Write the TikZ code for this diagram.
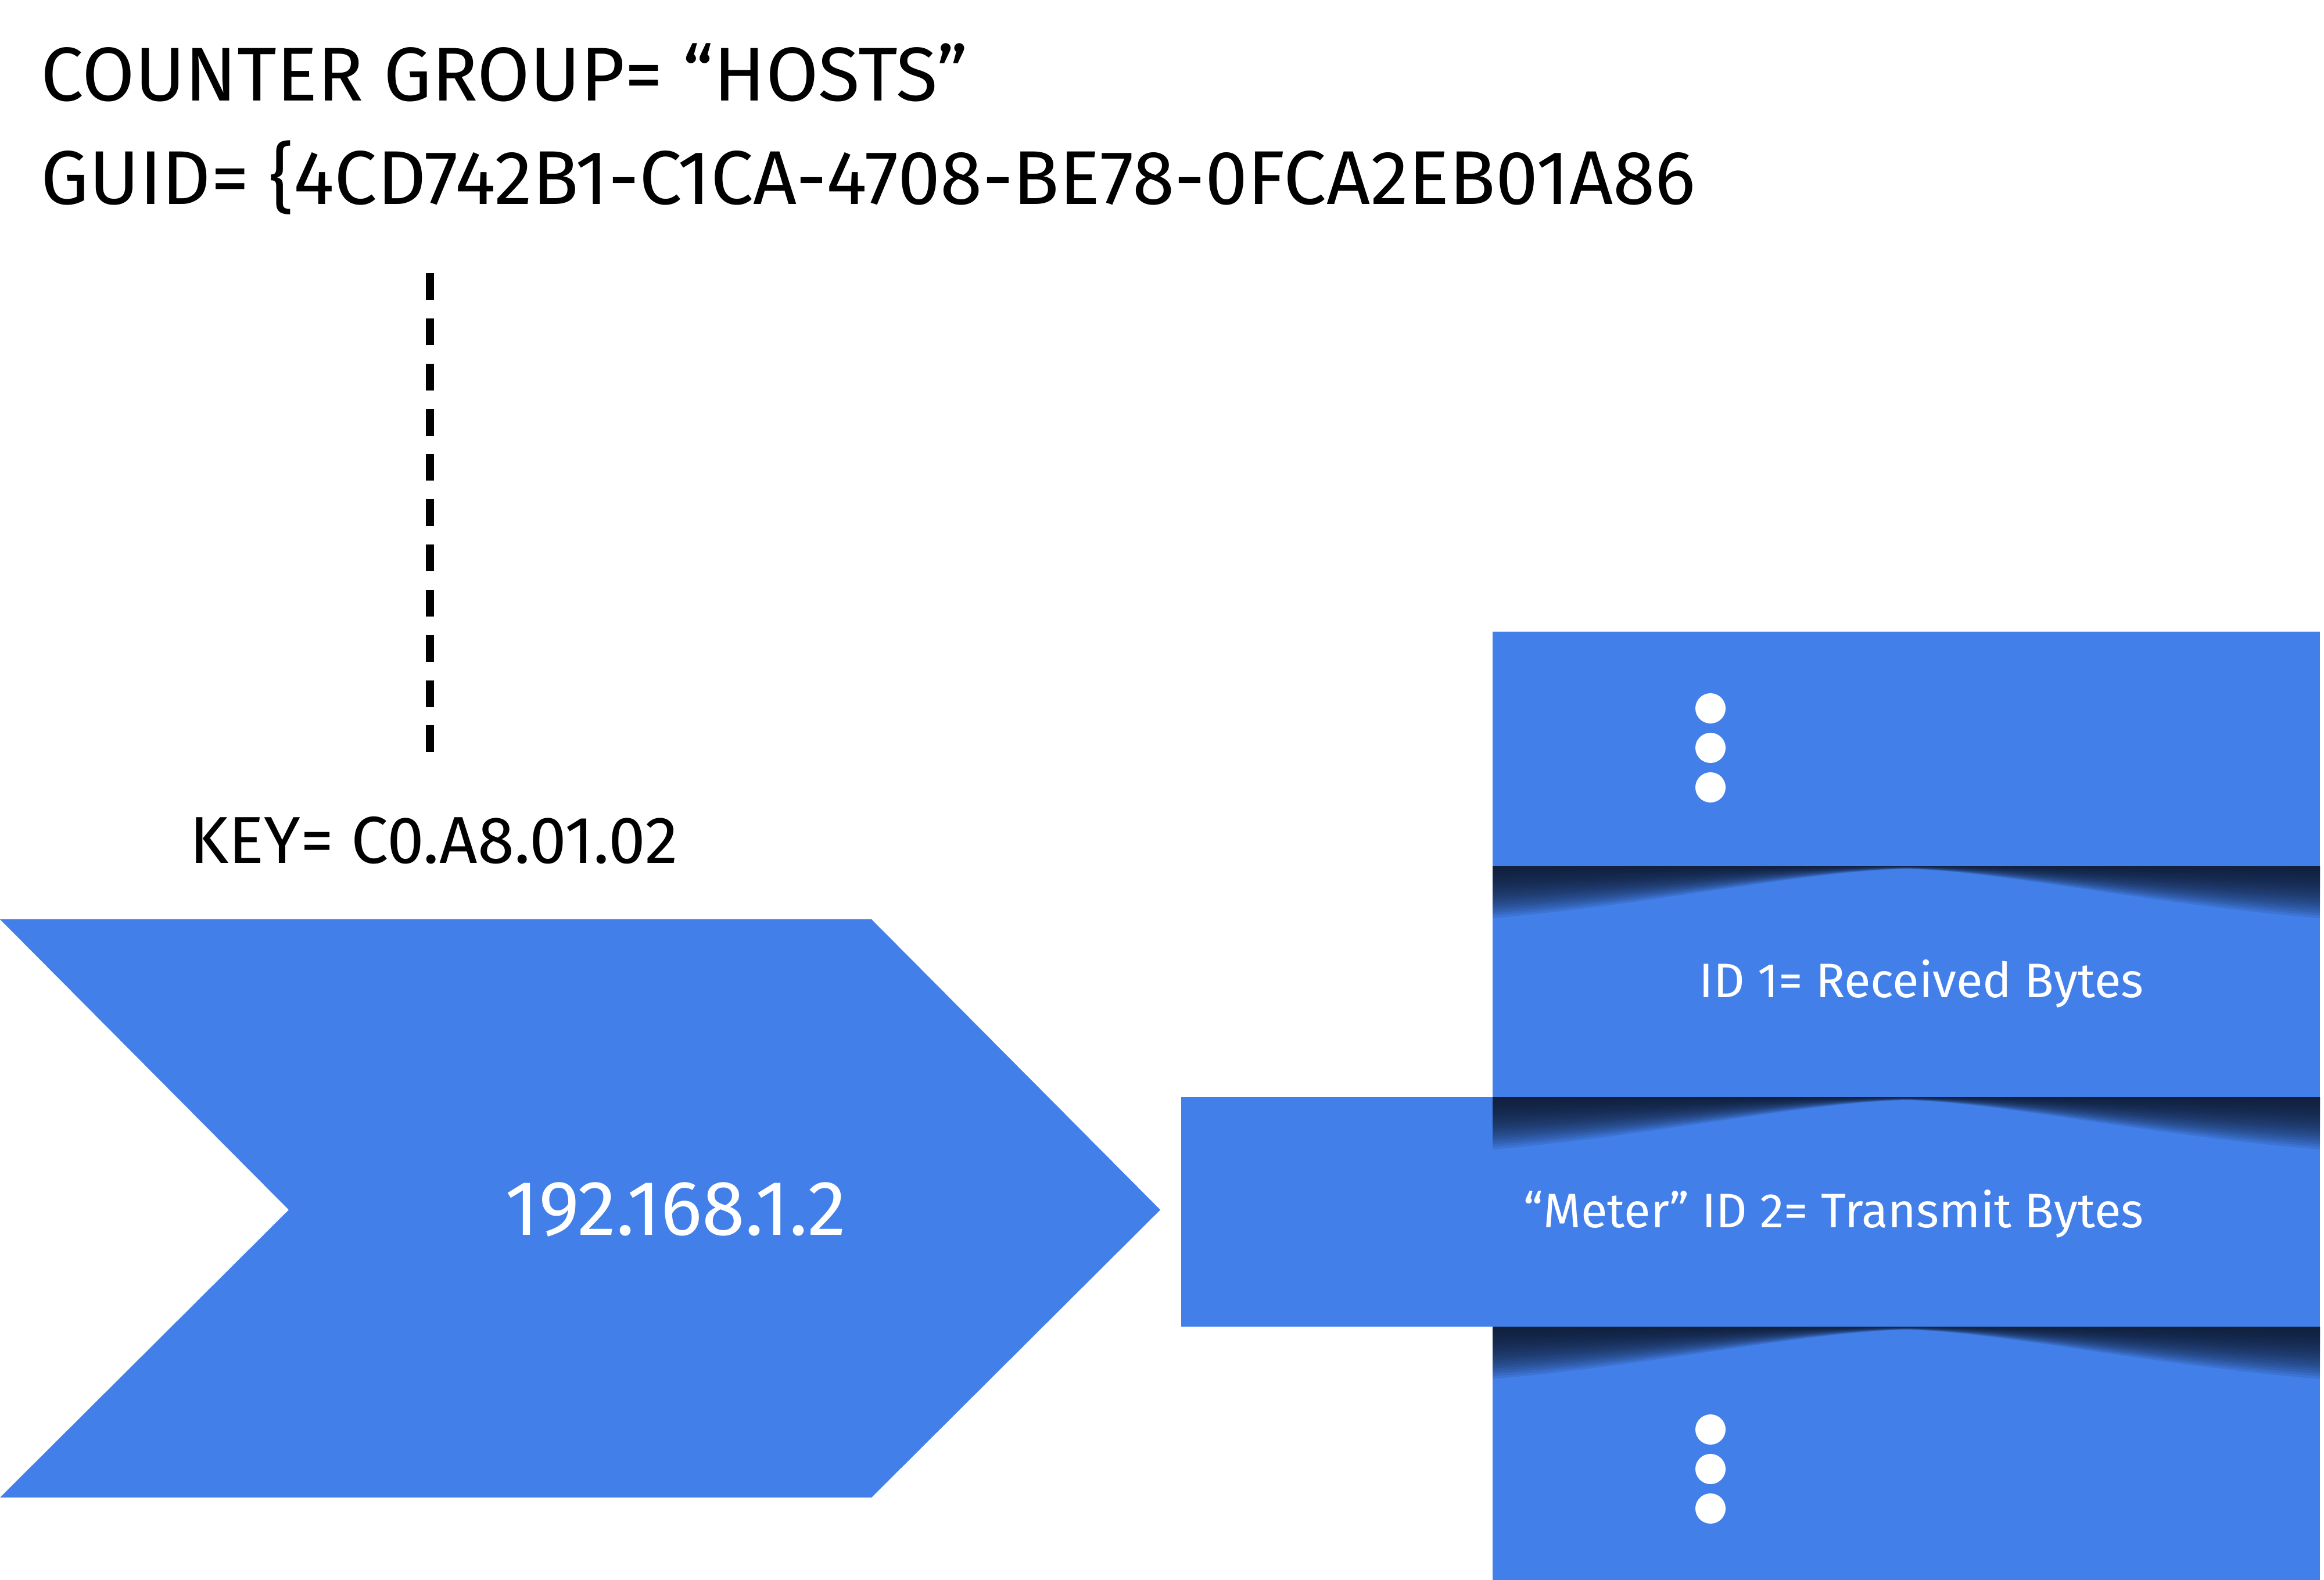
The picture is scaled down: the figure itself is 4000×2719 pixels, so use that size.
\documentclass[tikz,border=0pt]{standalone}
\usepackage{fontspec}
\setmainfont{Fira Sans}
\definecolor{hostblue}{RGB}{66,127,233}
\definecolor{shadowdark}{RGB}{14,24,44}

\tikzset{
  headtext/.style={anchor=base west,font=\fontsize{37.3}{44}\selectfont},
  celltext/.style={anchor=base east,text=white,font=\fontsize{23.7}{28}\selectfont},
  dot/.style={circle,fill=white,inner sep=0pt,minimum size=0.52cm},
}

\begin{document}
\begin{tikzpicture}[x=0.01cm,y=-0.01cm]
\useasboundingbox (0,0) rectangle (4000,2719);
% the header lines
\node[headtext] (group) at (58,174) {COUNTER GROUP= “HOSTS”};
\node[headtext] (guid) at (58,352) {GUID= \{4CD742B1-C1CA-4708-BE78-0FCA2EB01A86};
% the dashed line down to the key
\coordinate (dash top) at (740,470);
\coordinate (dash bottom) at (740,1296);
\draw[line width=0.14cm,dash pattern=on 0.46cm off 0.318cm] (dash top) -- (dash bottom);
\node[anchor=base west,font=\fontsize{32.5}{40}\selectfont] (key) at (314,1485) {KEY= C0.A8.01.02};
% the chevron
\fill[hostblue] (0,1582) -- (1500,1582) -- (1997,2082) -- (1500,2577) -- (0,2577) -- (497,2082) -- cycle;
\node[text=white,font=\fontsize{38}{44}\selectfont] (ip) at (1163,2082) {192.168.1.2};
% the stack of slabs
\fill[hostblue] (2569,1087) rectangle (3993,1490);
\fill[hostblue] (2569,1490) rectangle (3993,1888);
\fill[hostblue] (2033,1888) rectangle (3993,2283);
\fill[hostblue] (2569,2283) rectangle (3993,2719);
% soft shadows under each slab edge, stacked thin layers
\foreach \ytop in {1490,1888,2283}
\foreach \k in {1,...,20}
{
\fill[shadowdark,opacity=0.1]
(2569,\ytop) -- (3993,\ytop) -- (3993,\ytop+4.5*\k)
.. controls (3700,\ytop+3.3*\k) and (3450,\ytop+0.5*\k) .. (3281,\ytop+0.25*\k)
.. controls (3100,\ytop+0.5*\k) and (2850,\ytop+3.3*\k) .. (2569,\ytop+4.5*\k) -- cycle;
}
% dots and labels
\foreach \y/\n in {1219/1,1287/2,1355/3}
\node[dot] (top dot \n) at (2944,\y) {};
\foreach \y/\n in {2460/1,2528/2,2596/3}
\node[dot] (bottom dot \n) at (2944,\y) {};
\node[celltext] (received) at (3702,1716) {ID 1= Received Bytes};
\node[celltext] (transmit) at (3702,2112) {“Meter” ID 2= Transmit Bytes};
\end{tikzpicture}
\end{document}
